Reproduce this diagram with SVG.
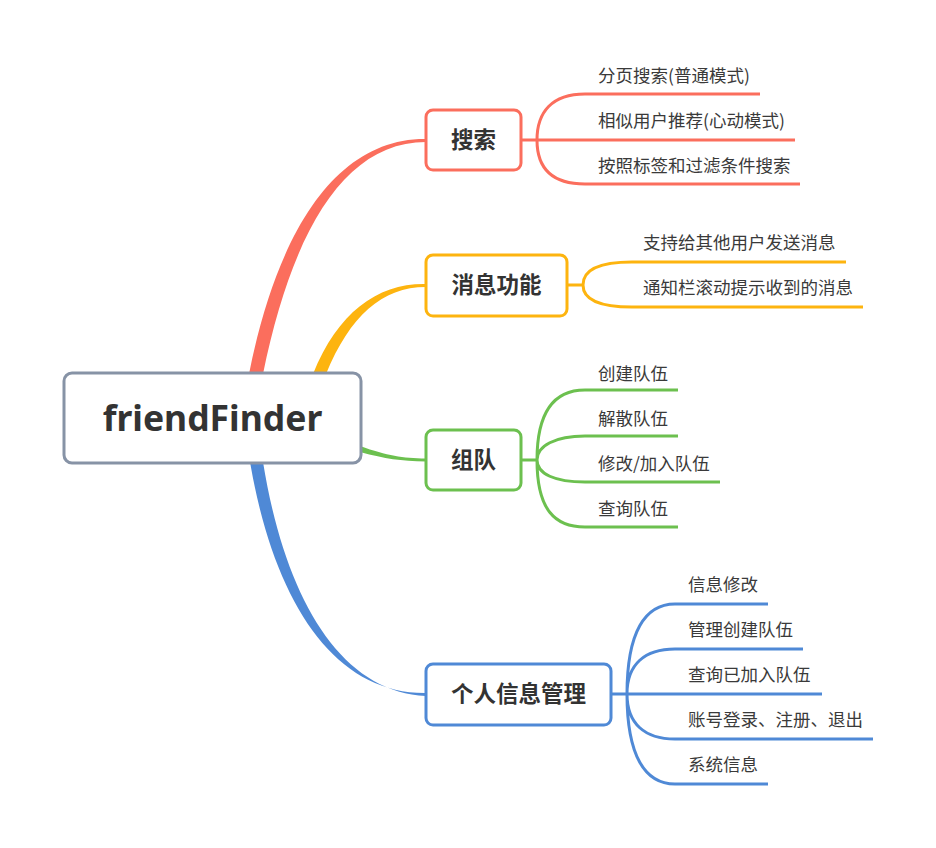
<svg xmlns="http://www.w3.org/2000/svg" width="936" height="848" viewBox="0 0 936 848">
<style>
.box{fill:#fff;stroke-width:3}
.lbl{font-family:"Noto Sans","Noto Sans CJK SC",sans-serif;font-weight:bold;fill:#333;font-size:22.5px;text-anchor:middle}
.leaf{font-family:"Noto Sans CJK SC","Noto Sans",sans-serif;fill:#3a3a3a;font-size:17.5px}
.sub{fill:none;stroke-width:3;stroke-linecap:butt}
.r{stroke:#FB6E5D}.o{stroke:#FDB40F}.g{stroke:#6CC04F}.b{stroke:#4F89D6}
</style>
<rect width="936" height="848" fill="#fff"/>
<g id="connectors">
  <path d="M249,374 C278,228 338,138 426,139 L426,142 C344,142 292,232 263,374 Z" fill="#FB6E5D"/>
  <path d="M313,374 C338,312 378,283 426,284 L426,287 C382,287 350,316 326,374 Z" fill="#FDB40F"/>
  <path d="M360,446 C388,456 402,458 426,458.5 L426,461.5 C400,461 386,459 360,452 Z" fill="#6CC04F"/>
  <path d="M250,462 C274,602 334,694 426,693 L426,696 C340,692 285,598 263,462 Z" fill="#4F89D6"/>
  <path class="sub r" d="M521,140 H537 M537,140 C537,112 552,94 585,94 H760 M537,140 H795 M537,140 C537,168 552,184 585,184 H800"/>
  <path class="sub o" d="M567,285 H583 M583,285 C583,270 600,262 632,262 H846 M583,285 C583,300 600,307 632,307 H863"/>
  <path class="sub g" d="M521,460 H537 M537,460 C537,410 555,390 585,390 H678 M537,460 C537,446 555,436 585,436 H678 M537,460 C537,474 555,482 585,482 H720 M537,460 C537,510 555,527 585,527 H678"/>
  <path class="sub b" d="M611,694 H627 M627,694 C627,632 645,604 675,604 H768 M627,694 C627,664 645,649 675,649 H803 M627,694 H822 M627,694 C627,724 645,739 675,739 H873 M627,694 C627,756 645,784 675,784 H768"/>
</g>
<g id="root">
  <rect class="box" x="64" y="373" width="297" height="90" rx="8" stroke="#8793A6"/>
  <text x="212.5" y="430.5" class="lbl" style="font-size:35.5px">friendFinder</text>
</g>
<g id="n-search">
  <rect class="box r" x="426" y="110" width="95" height="60" rx="7"/>
  <text x="473.5" y="148" class="lbl">搜索</text>
</g>
<g id="n-msg">
  <rect class="box o" x="426" y="255" width="141" height="61" rx="7"/>
  <text x="496.5" y="293" class="lbl">消息功能</text>
</g>
<g id="n-team">
  <rect class="box g" x="426" y="430" width="95" height="60" rx="7"/>
  <text x="473.5" y="468" class="lbl">组队</text>
</g>
<g id="n-profile">
  <rect class="box b" x="426" y="664" width="185" height="61" rx="7"/>
  <text x="518.5" y="702" class="lbl">个人信息管理</text>
</g>
<g id="leaves-search">
  <text class="leaf" x="598" y="82">分页搜索(普通模式)</text>
  <text class="leaf" x="598" y="127">相似用户推荐(心动模式)</text>
  <text class="leaf" x="598" y="172">按照标签和过滤条件搜索</text>
</g>
<g id="leaves-msg">
  <text class="leaf" x="643" y="249">支持给其他用户发送消息</text>
  <text class="leaf" x="643" y="294">通知栏滚动提示收到的消息</text>
</g>
<g id="leaves-team">
  <text class="leaf" x="598" y="380">创建队伍</text>
  <text class="leaf" x="598" y="425">解散队伍</text>
  <text class="leaf" x="598" y="470">修改/加入队伍</text>
  <text class="leaf" x="598" y="515">查询队伍</text>
</g>
<g id="leaves-profile">
  <text class="leaf" x="688" y="591">信息修改</text>
  <text class="leaf" x="688" y="636">管理创建队伍</text>
  <text class="leaf" x="688" y="681">查询已加入队伍</text>
  <text class="leaf" x="688" y="726">账号登录、注册、退出</text>
  <text class="leaf" x="688" y="771">系统信息</text>
</g>
</svg>
